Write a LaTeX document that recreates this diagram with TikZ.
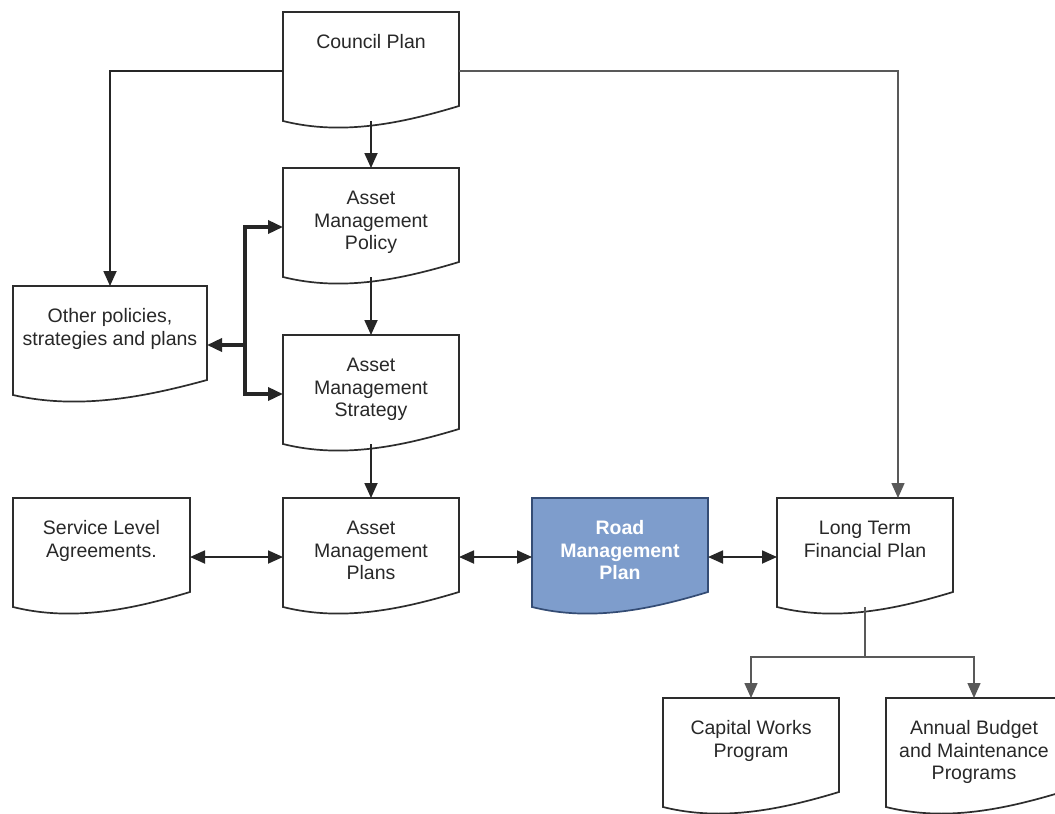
\documentclass[tikz,border=0pt]{standalone}
\usepackage{fontspec}
\setmainfont{Liberation Sans}
\usetikzlibrary{arrows.meta,calc,backgrounds}
\definecolor{rmpblue}{RGB}{126,157,204}
\definecolor{rmpedge}{RGB}{52,76,116}
\definecolor{outl}{RGB}{45,45,45}
\definecolor{textc}{RGB}{40,40,40}
\newcommand\dfont{\fontsize{19.5}{22.5}\selectfont}
\newcommand\doctext[2]{\parbox[c][109pt][t]{#1pt}{\centering\vspace*{21pt}\strut #2}}
\newcommand\drawdoc[2][]{%
  \draw[docline,#1] (#2.north west) -- (#2.north east) -- ([yshift=15pt]#2.south east)
    .. controls ($(#2.south west)!0.68!(#2.south east)+(0,-2pt)$)
       and ($(#2.south west)!0.34!(#2.south east)+(0,-15pt)$) .. (#2.south west) -- cycle;}
\tikzset{
  doc/.style={anchor=north west, inner sep=0pt, outer sep=0pt, text=textc, font=\dfont},
  docline/.style={draw=outl, line width=1.7pt, fill=white, line join=miter},
  arr/.style={line width=1.8pt, draw=black!85, -{Triangle[length=15pt,width=13pt]}},
  darr/.style={arr, {Triangle[length=15pt,width=13pt]}-{Triangle[length=15pt,width=13pt]}},
  barr/.style={arr, line width=3.5pt},
  gline/.style={line width=1.5pt, draw=black!65},
  garr/.style={arr, line width=1.5pt, draw=black!65}
}
\begin{document}
\begin{tikzpicture}[x=1pt,y=-1pt]
\useasboundingbox (0,0) rectangle (1055,814);
% document boxes
\node[doc] (cp) at (283,12) {\doctext{176}{Council Plan}};
\node[doc] (amp) at (283,168) {\doctext{176}{Asset\\Management\\Policy}};
\node[doc] (ams) at (283,335) {\doctext{176}{Asset\\Management\\Strategy}};
\node[doc] (op) at (13,286) {\doctext{194}{Other policies,\\strategies and plans}};
\node[doc] (sla) at (13,498) {\doctext{177}{Service Level\\Agreements.}};
\node[doc] (apl) at (283,498) {\doctext{176}{Asset\\Management\\Plans}};
\node[doc, text=white, font=\dfont\bfseries] (rmp) at (532,498) {\doctext{176}{Road\\Management\\Plan}};
\node[doc] (ltfp) at (777,498) {\doctext{176}{Long Term\\Financial Plan}};
\node[doc] (cwp) at (663,698) {\doctext{176}{Capital Works\\Program}};
\node[doc] (abm) at (886,698) {\doctext{176}{Annual Budget\\and Maintenance\\Programs}};
\begin{scope}[on background layer]
  \fill[white] (0,0) rectangle (1055,814);
  \drawdoc{cp}
  \drawdoc{amp}
  \drawdoc{ams}
  \drawdoc{op}
  \drawdoc{sla}
  \drawdoc{apl}
  \drawdoc[fill=rmpblue, draw=rmpedge]{rmp}
  \drawdoc{ltfp}
  \drawdoc{cwp}
  \drawdoc{abm}
\end{scope}
% connectors
\draw[arr] (cp.south) -- (amp.north);
\draw[arr] (amp.south) -- (ams.north);
\draw[arr] (ams.south) -- (apl.north);
\draw[arr] ([yshift=-4.5pt]cp.west) -| (op.north);
\draw[garr] ([yshift=-4.5pt]cp.east) -| ([xshift=33pt]ltfp.north);
\coordinate (bx) at ([xshift=38pt,yshift=-4.5pt]op.east);
\draw[barr] (bx) -- ([yshift=-4.5pt]op.east);
\draw[barr] (bx) |- ([yshift=-4.5pt]amp.west);
\draw[barr] (bx) |- ([yshift=-4.5pt]ams.west);
\draw[darr] ([yshift=-4.5pt]sla.east) -- ([yshift=-4.5pt]apl.west);
\draw[darr] ([yshift=-4.5pt]apl.east) -- ([yshift=-4.5pt]rmp.west);
\draw[darr] ([yshift=-4.5pt]rmp.east) -- ([yshift=-4.5pt]ltfp.west);
\coordinate (split) at ([yshift=-50pt]ltfp.south);
\draw[gline] (ltfp.south) -- (split);
\draw[garr] (split) -| (cwp.north);
\draw[garr] (split) -| (abm.north);
\end{tikzpicture}
\end{document}
